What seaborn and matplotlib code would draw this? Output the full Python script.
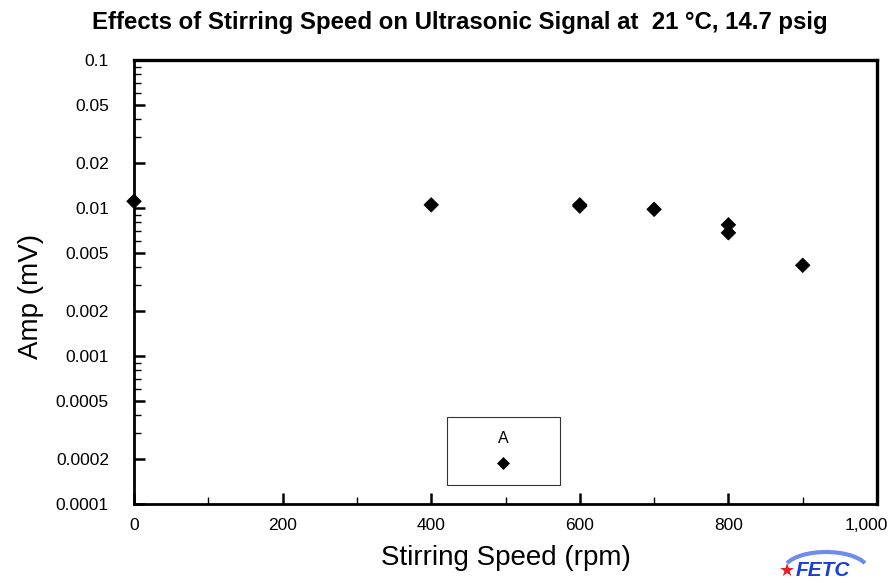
import numpy as np
import pandas as pd
import matplotlib
matplotlib.use('Agg')
from matplotlib import pyplot as plt
from matplotlib import ticker, transforms
from matplotlib.patches import Arc
import seaborn as sns

# values
speed = [0, 400, 600, 600, 700, 800, 800, 900]
amp = [0.0111, 0.0105, 0.0105, 0.0103, 0.0098, 0.0077, 0.0068, 0.0041]
series = ['A'] * len(speed)
ytick_vals = [0.0001, 0.0002, 0.0005, 0.001, 0.002, 0.005, 0.01, 0.02, 0.05, 0.1]
ytick_labels = ['0.0001', '0.0002', '0.0005', '0.001', '0.002', '0.005', '0.01', '0.02', '0.05', '0.1']
xtick_vals = [0, 200, 400, 600, 800, 1000]
xtick_labels = ['0', '200', '400', '600', '800', '1,000']

df = pd.DataFrame({'Speed': speed, 'Amp': amp, 'Series': series})

sns.set_style('white')
plt.rcParams['font.family'] = ['Liberation Sans', 'DejaVu Sans']
plt.rcParams['text.color'] = 'black'
plt.rcParams['axes.labelcolor'] = 'black'
plt.rcParams['xtick.color'] = 'black'
plt.rcParams['ytick.color'] = 'black'

fig = plt.figure(figsize=(8.93, 5.83), dpi=100)
ax = fig.add_axes([134/893, 1 - 504/583, (877-134)/893, (504-60)/583])

sns.scatterplot(data=df, x='Speed', y='Amp', hue='Series', palette=['black'],
                marker='D', s=55, edgecolor='black', linewidth=0.5,
                clip_on=False, zorder=5, ax=ax)

ax.set_yscale('log')
ax.set_ylim(0.0001, 0.1)
ax.set_xlim(0, 1000)

ax.set_yticks(ytick_vals)
ax.set_yticklabels(ytick_labels)
ax.yaxis.set_minor_locator(ticker.LogLocator(base=10, subs=[3, 4, 6, 7, 8, 9]))
ax.yaxis.set_minor_formatter(ticker.NullFormatter())
ax.set_xticks(xtick_vals)
ax.set_xticklabels(xtick_labels)
ax.xaxis.set_minor_locator(ticker.MultipleLocator(100))

ax.tick_params(axis='both', which='major', direction='in', length=8, width=1.8,
               labelsize=12.5, left=True, bottom=True, top=False, right=False)
ax.tick_params(axis='both', which='minor', direction='in', length=5, width=1,
               left=True, bottom=True, top=False, right=False)
ax.tick_params(axis='y', which='major', pad=18)
ax.tick_params(axis='x', which='major', pad=10)

# last x label sits a little left of its tick, as in the reference
last = ax.get_xticklabels()[-1]
last.set_transform(last.get_transform() +
                   transforms.ScaledTranslation(-0.11, 0, fig.dpi_scale_trans))

for sp in ax.spines.values():
    sp.set_visible(True)
    sp.set_color('black')
    sp.set_linewidth(2.0)
for sp in ['top', 'right']:
    ax.spines[sp].set_linewidth(2.4)

ax.set_xlabel('Stirring Speed (rpm)', fontsize=20)
ax.set_ylabel('Amp (mV)', fontsize=20)
ax.xaxis.set_label_coords(0.5, -0.092)
ax.yaxis.set_label_coords(-0.121, 0.468)

leg = ax.legend(handles=ax.get_legend().legend_handles, labels=[''], title='A',
                loc='lower center', bbox_to_anchor=(0.497, 0.043),
                borderaxespad=0, frameon=True, fancybox=False, edgecolor='black',
                borderpad=0.9, handletextpad=0, handlelength=5.6,
                labelspacing=0.75, fontsize=11, title_fontsize=11.5,
                markerscale=0.85)
leg.get_frame().set_linewidth(0.8)
leg._legend_box.align = 'center'

fig.text(460/893, 1 - 22/583,
         'Effects of Stirring Speed on Ultrasonic Signal at  21 \u00b0C, 14.7 psig',
         ha='center', va='center', fontsize=17.3, fontweight='bold')

# logo
fig.patches.append(Arc((826/893, 1 - 570/583), 84/893, 36/583, theta1=15, theta2=165,
                       transform=fig.transFigure, color='#4a70e6', linewidth=3,
                       alpha=0.8))
fig.text(823/893, 1 - 570/583, 'FETC', ha='center', va='center', fontsize=15,
         fontweight='bold', style='italic', color='#1a3fd6')
fig.text(787/893, 1 - 571/583, '\u2605', ha='center', va='center', fontsize=13,
         color='#e0202a', family=['DejaVu Sans'])

fig.savefig('out.png', dpi=100)
